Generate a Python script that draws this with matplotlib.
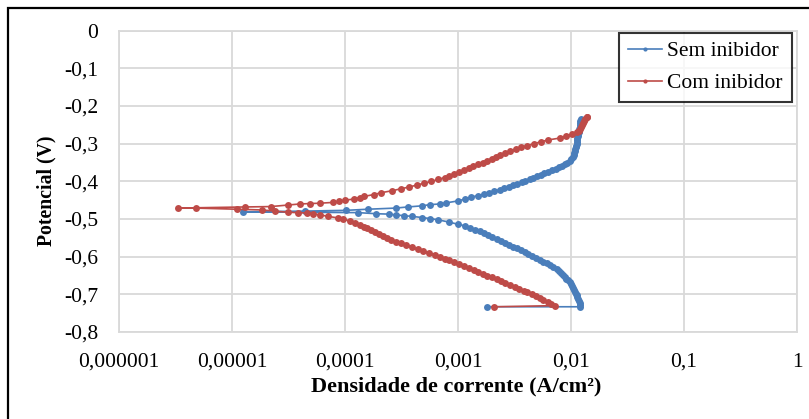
import matplotlib
matplotlib.use('Agg')
import matplotlib.pyplot as plt
from matplotlib.patches import Rectangle

# Curva de polarizacao - sem inibidor (potencial V, densidade de corrente A/cm2)
e_sem = [-0.733, -0.733, -0.728, -0.723, -0.718, -0.713, -0.708, -0.703, -0.698, -0.693,
         -0.688, -0.683, -0.678, -0.673, -0.668, -0.663, -0.658, -0.653, -0.648, -0.643,
         -0.638, -0.633, -0.628, -0.623, -0.618, -0.613, -0.608, -0.603, -0.598, -0.593,
         -0.588, -0.583, -0.578, -0.573, -0.568, -0.563, -0.558, -0.553, -0.548, -0.543,
         -0.538, -0.533, -0.528, -0.523, -0.518, -0.514, -0.508, -0.502, -0.499, -0.496,
         -0.493, -0.491, -0.489, -0.487, -0.486, -0.483, -0.481, -0.479, -0.477, -0.474,
         -0.471, -0.468, -0.465, -0.462, -0.460, -0.457, -0.452, -0.447, -0.442, -0.438,
         -0.434, -0.430, -0.426, -0.422, -0.418, -0.414, -0.410, -0.406, -0.402, -0.398,
         -0.394, -0.390, -0.386, -0.382, -0.378, -0.374, -0.370, -0.366, -0.362, -0.358,
         -0.354, -0.350, -0.345, -0.340, -0.335, -0.330, -0.325, -0.320, -0.315, -0.310,
         -0.305, -0.300, -0.295, -0.290, -0.285, -0.280, -0.275, -0.270, -0.265, -0.260,
         -0.255, -0.250, -0.245, -0.240, -0.235]
i_sem = [1.8e-3, 1.21e-2, 1.2e-2, 1.19e-2, 1.18e-2, 1.16e-2, 1.14e-2, 1.12e-2, 1.11e-2, 1.09e-2,
         1.07e-2, 1.05e-2, 1.03e-2, 1.0e-2, 9.7e-3, 9.4e-3, 9.1e-3, 8.8e-3, 8.5e-3, 8.2e-3,
         7.9e-3, 7.5e-3, 7.0e-3, 6.5e-3, 6.1e-3, 5.7e-3, 5.3e-3, 4.9e-3, 4.55e-3, 4.2e-3,
         3.9e-3, 3.6e-3, 3.3e-3, 3.05e-3, 2.8e-3, 2.6e-3, 2.4e-3, 2.2e-3, 2.0e-3, 1.85e-3,
         1.7e-3, 1.55e-3, 1.4e-3, 1.27e-3, 1.15e-3, 1.0e-3, 8.3e-4, 6.6e-4, 5.7e-4, 4.8e-4,
         3.9e-4, 3.3e-4, 2.8e-4, 2.45e-4, 1.9e-4, 1.3e-4, 1.25e-5, 4.4e-5, 1.02e-4, 1.6e-4,
         2.8e-4, 3.6e-4, 4.8e-4, 5.6e-4, 6.9e-4, 7.9e-4, 1.0e-3, 1.15e-3, 1.3e-3, 1.5e-3,
         1.7e-3, 1.9e-3, 2.1e-3, 2.35e-3, 2.55e-3, 2.8e-3, 3.05e-3, 3.35e-3, 3.65e-3, 3.95e-3,
         4.3e-3, 4.65e-3, 5.0e-3, 5.4e-3, 5.8e-3, 6.3e-3, 6.8e-3, 7.3e-3, 7.9e-3, 8.4e-3,
         8.9e-3, 9.3e-3, 9.7e-3, 1.01e-2, 1.04e-2, 1.06e-2, 1.07e-2, 1.08e-2, 1.09e-2, 1.1e-2,
         1.11e-2, 1.12e-2, 1.13e-2, 1.14e-2, 1.14e-2, 1.15e-2, 1.16e-2, 1.17e-2, 1.17e-2, 1.18e-2,
         1.19e-2, 1.2e-2, 1.21e-2, 1.21e-2, 1.22e-2]

# Curva de polarizacao - com inibidor
e_com = [-0.733, -0.730, -0.725, -0.720, -0.715, -0.710, -0.705, -0.700, -0.695, -0.690,
         -0.685, -0.680, -0.675, -0.670, -0.665, -0.660, -0.655, -0.650, -0.645, -0.640,
         -0.635, -0.630, -0.625, -0.620, -0.615, -0.610, -0.605, -0.600, -0.595, -0.590,
         -0.585, -0.580, -0.575, -0.570, -0.565, -0.560, -0.555, -0.550, -0.545, -0.540,
         -0.535, -0.530, -0.525, -0.520, -0.515, -0.510, -0.505, -0.500, -0.497, -0.493,
         -0.489, -0.486, -0.484, -0.483, -0.482, -0.479, -0.476, -0.474, -0.471, -0.471,
         -0.468, -0.467, -0.463, -0.460, -0.459, -0.458, -0.456, -0.453, -0.450, -0.447,
         -0.443, -0.440, -0.435, -0.430, -0.425, -0.420, -0.415, -0.410, -0.405, -0.400,
         -0.395, -0.390, -0.385, -0.380, -0.375, -0.370, -0.365, -0.360, -0.355, -0.350,
         -0.345, -0.340, -0.335, -0.330, -0.325, -0.320, -0.315, -0.310, -0.305, -0.300,
         -0.295, -0.290, -0.285, -0.280, -0.275, -0.270, -0.265, -0.260, -0.255, -0.250,
         -0.245, -0.240, -0.235, -0.230, -0.228]
i_com = [2.1e-3, 7.2e-3, 6.7e-3, 6.2e-3, 5.7e-3, 5.3e-3, 4.9e-3, 4.5e-3, 4.1e-3, 3.8e-3,
         3.5e-3, 3.2e-3, 2.9e-3, 2.6e-3, 2.4e-3, 2.2e-3, 2.0e-3, 1.8e-3, 1.65e-3, 1.5e-3,
         1.38e-3, 1.25e-3, 1.13e-3, 1.02e-3, 9.2e-4, 8.4e-4, 7.6e-4, 6.9e-4, 6.2e-4, 5.5e-4,
         4.9e-4, 4.4e-4, 3.9e-4, 3.5e-4, 3.1e-4, 2.8e-4, 2.55e-4, 2.35e-4, 2.15e-4, 2.0e-4,
         1.85e-4, 1.7e-4, 1.58e-4, 1.47e-4, 1.35e-4, 1.23e-4, 1.1e-4, 9.6e-5, 8.6e-5, 7.1e-5,
         6.0e-5, 5.2e-5, 4.6e-5, 3.8e-5, 3.1e-5, 2.4e-5, 1.84e-5, 1.1e-5, 4.8e-6, 3.3e-6,
         1.3e-5, 2.2e-5, 3.1e-5, 4.0e-5, 4.9e-5, 6.0e-5, 7.8e-5, 8.8e-5, 1.0e-4, 1.2e-4,
         1.35e-4, 1.48e-4, 1.8e-4, 2.1e-4, 2.6e-4, 3.1e-4, 3.7e-4, 4.3e-4, 5.0e-4, 5.8e-4,
         6.7e-4, 7.6e-4, 8.4e-4, 9.3e-4, 1.03e-3, 1.13e-3, 1.24e-3, 1.36e-3, 1.5e-3, 1.65e-3,
         1.8e-3, 1.98e-3, 2.15e-3, 2.35e-3, 2.6e-3, 2.9e-3, 3.25e-3, 3.6e-3, 4.1e-3, 4.7e-3,
         5.4e-3, 6.3e-3, 8.0e-3, 9.0e-3, 1.02e-2, 1.13e-2, 1.18e-2, 1.2e-2, 1.22e-2, 1.25e-2,
         1.28e-2, 1.31e-2, 1.34e-2, 1.38e-2, 1.39e-2]

x_ticks = [1e-6, 1e-5, 1e-4, 1e-3, 1e-2, 1e-1, 1]
x_labels = ['0,000001', '0,00001', '0,0001', '0,001', '0,01', '0,1', '1']
y_ticks = [0, -0.1, -0.2, -0.3, -0.4, -0.5, -0.6, -0.7, -0.8]
y_labels = ['0', '-0,1', '-0,2', '-0,3', '-0,4', '-0,5', '-0,6', '-0,7', '-0,8']

plt.rcParams['font.family'] = ['Liberation Serif', 'DejaVu Serif']

fig = plt.figure(figsize=(8.09, 4.19), dpi=100)
ax = fig.add_axes([119/809, 1 - 332/419, 678/809, (332 - 30.7)/419])

azul = '#4a7ebb'
vermelho = '#be4b48'
ax.plot(i_sem, e_sem, color=azul, lw=1.2, marker='o', ms=5, mec='none',
        label='Sem inibidor', zorder=3)
ax.plot(i_com, e_com, color=vermelho, lw=1.2, marker='o', ms=5, mec='none',
        label='Com inibidor', zorder=4)

ax.set_xscale('log')
ax.set_xlim(1e-6, 1)
ax.set_ylim(-0.8, 0)
ax.set_xticks(x_ticks)
ax.set_xticklabels(x_labels)
ax.minorticks_off()
ax.set_yticks(y_ticks)
ax.set_yticklabels(y_labels)
ax.tick_params(axis='both', length=0, labelsize=15.5)
ax.tick_params(axis='y', pad=15)
ax.tick_params(axis='x', pad=15)
ax.grid(True, color='#d9d9d9', lw=1.3)
ax.set_axisbelow(True)
for s in ax.spines.values():
    s.set_color('#d9d9d9')
    s.set_linewidth(1.3)

ax.set_xlabel('Densidade de corrente (A/cm²)', fontsize=16, fontweight='bold')
ax.xaxis.set_label_coords(0.497, -0.148)
ax.set_ylabel('Potencial (V)', fontsize=14.2, fontweight='bold')
ax.yaxis.set_label_coords(-0.092, 0.47)

leg = ax.legend(loc='upper right', bbox_to_anchor=(0.992, 0.994), fontsize=15.5,
                frameon=True, fancybox=False, handlelength=1.6, handletextpad=0.25,
                borderpad=0.4, labelspacing=0.55, borderaxespad=0)
leg.get_frame().set_edgecolor('black')
leg.get_frame().set_linewidth(1.5)
for h in leg.get_lines():
    h.set_markersize(3)

# moldura externa do grafico
fig.patches.append(Rectangle((8/809, -0.2), 1.2, 1.2 - 8/419, transform=fig.transFigure,
                             fill=False, edgecolor='black', lw=1.6))

plt.savefig('out.png', dpi=100)
